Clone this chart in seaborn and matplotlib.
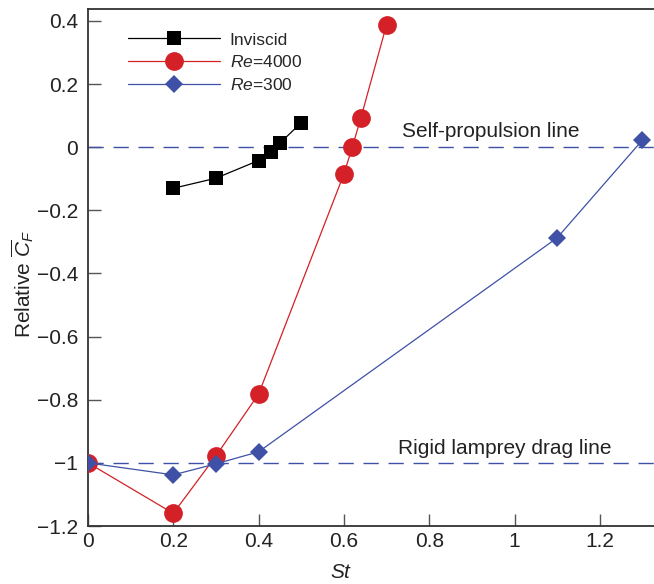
import matplotlib
matplotlib.use("Agg")
import matplotlib.pyplot as plt
import seaborn as sns
import pandas as pd

st_inviscid = [0.2, 0.3, 0.4, 0.43, 0.45, 0.5]
cf_inviscid = [-0.130, -0.098, -0.042, -0.014, 0.013, 0.078]

st_re4000 = [0.0, 0.2, 0.3, 0.4, 0.6, 0.62, 0.64, 0.7]
cf_re4000 = [-1.0, -1.16, -0.978, -0.782, -0.085, 0.002, 0.094, 0.388]

st_re300 = [0.0, 0.2, 0.3, 0.4, 1.1, 1.3]
cf_re300 = [-1.0, -1.038, -1.003, -0.965, -0.287, 0.023]

series_labels = ["Inviscid", "$\\mathit{Re}$=4000", "$\\mathit{Re}$=300"]
x_ticks = [0, 0.2, 0.4, 0.6, 0.8, 1.0, 1.2]
x_tick_labels = ["0", "0.2", "0.4", "0.6", "0.8", "1", "1.2"]
y_ticks = [-1.2, -1.0, -0.8, -0.6, -0.4, -0.2, 0, 0.2, 0.4]
y_tick_labels = ["\u22121.2", "\u22121", "\u22120.8", "\u22120.6", "\u22120.4", "\u22120.2", "0", "0.2", "0.4"]

sns.set_theme(style="ticks")
plt.rcParams["font.family"] = ["Liberation Sans", "DejaVu Sans"]
plt.rcParams["mathtext.fontset"] = "custom"
plt.rcParams["mathtext.rm"] = "Liberation Sans"
plt.rcParams["mathtext.it"] = "Liberation Sans:italic"

red = "#d42027"
blue = "#3e51a6"

fig = plt.figure(figsize=(6.54, 5.84), dpi=100)
# axes extends a little past the right edge of the figure (cropped as in the reference)
ax = fig.add_axes([88/654, 1-526/584, (700-88)/654, (526-9)/584])

ax.axhline(0, color=blue, lw=1.0, dashes=(11, 7), zorder=1)
ax.axhline(-1, color=blue, lw=1.0, dashes=(11, 7), zorder=1)

df_inv = pd.DataFrame({"St": st_inviscid, "CF": cf_inviscid})
df_4000 = pd.DataFrame({"St": st_re4000, "CF": cf_re4000})
df_300 = pd.DataFrame({"St": st_re300, "CF": cf_re300})

sns.lineplot(data=df_inv, x="St", y="CF", ax=ax, color="black", marker="s",
             markersize=10, markeredgewidth=0, linewidth=0.9, sort=False,
             label=series_labels[0], zorder=3)
sns.lineplot(data=df_4000, x="St", y="CF", ax=ax, color=red, marker="o",
             markersize=13.5, markeredgewidth=0, linewidth=0.9, sort=False,
             label=series_labels[1], zorder=4)
sns.lineplot(data=df_300, x="St", y="CF", ax=ax, color=blue, marker="D",
             markersize=9.5, markeredgewidth=0, linewidth=0.9, sort=False,
             label=series_labels[2], zorder=5)

ax.set_xlim(0, (700-88)/426.5)
ax.set_ylim(-1.2, 0.438)
ax.set_xticks(x_ticks)
ax.set_xticklabels(x_tick_labels)
ax.set_yticks(y_ticks)
ax.set_yticklabels(y_tick_labels)
ax.tick_params(axis="both", direction="in", length=9, width=1.0, color="#555555",
               labelsize=15, labelcolor="#222222")
ax.tick_params(axis="y", pad=7)
ax.tick_params(axis="x", pad=4)

for s in ["left", "bottom", "top"]:
    ax.spines[s].set_color("#333333")
    ax.spines[s].set_linewidth(1.3)
ax.spines["right"].set_visible(False)

ax.set_xlabel("$\\mathit{St}$", fontsize=15, color="#222222")
ax.xaxis.set_label_coords((341-88)/612, (526-563)/517)
ax.set_ylabel("Relative $\\overline{C}_F$", fontsize=15, color="#222222")
ax.yaxis.set_label_coords((36-88)/612, (526-284)/517)

ax.text(0.945, 0.05, "Self-propulsion line", fontsize=15, color="#222222",
        ha="center", va="center")
ax.text(0.978, -0.954, "Rigid lamprey drag line", fontsize=15, color="#222222",
        ha="center", va="center")

leg = ax.legend(loc="upper left", bbox_to_anchor=(0.04, 0.985), frameon=False,
                fontsize=12.5, handlelength=5.3, handletextpad=0.55, labelspacing=0.4)

fig.savefig("out.png", dpi=100)
